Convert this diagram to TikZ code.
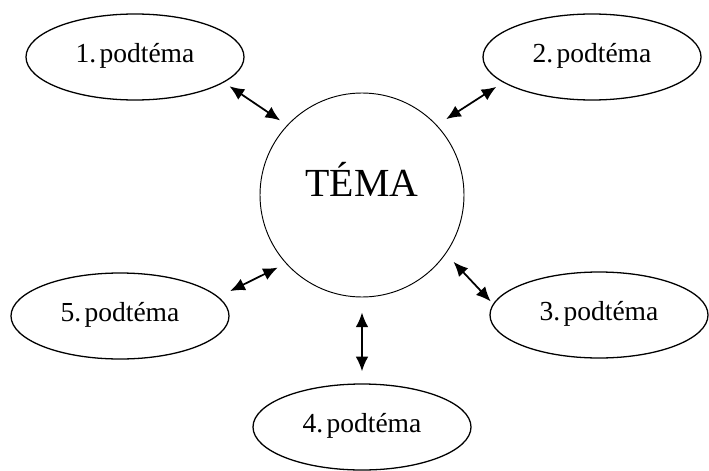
\documentclass[tikz,border=0pt]{standalone}
\usepackage{fontspec}
\setmainfont{Liberation Serif}
\usetikzlibrary{shapes.geometric, arrows.meta}

\begin{document}
\begin{tikzpicture}[
    x=0.3mm, y=-0.3mm,
    sub/.style={ellipse, draw, line width=1.1pt, minimum width=6.54cm, minimum height=2.58cm, inner sep=0pt, font=\fontsize{23.5}{28}\selectfont, text height=16pt, text depth=7pt},
    theme/.style={circle, draw, line width=0.8pt, minimum size=6.12cm, inner sep=0pt, font=\fontsize{34}{40}\selectfont, text height=27pt, text depth=24pt},
    link/.style={{Latex[length=4.4mm,width=3.8mm]}-{Latex[length=4.4mm,width=3.8mm]}, line width=1.5pt}
]
\useasboundingbox (0,0) rectangle (709,470);
\node[theme] (tema) at (362,195) {TÉMA};
\node[sub] (sub1) at (135,57) {1.\hspace{0.12em}podtéma};
\node[sub] (sub2) at (592,57) {2.\hspace{0.12em}podtéma};
\node[sub] (sub3) at (599,315) {3.\hspace{0.12em}podtéma};
\node[sub] (sub4) at (362,427) {4.\hspace{0.12em}podtéma};
\node[sub] (sub5) at (120,316) {5.\hspace{0.12em}podtéma};

\draw[link, shorten <=2mm, shorten >=2.5mm] (sub1.-16) -- (tema.137);
\draw[link, shorten <=2.4mm, shorten >=3.3mm] (sub2.196) -- (tema.43);
\draw[link, shorten <=3.3mm, shorten >=1mm] (tema.-35) -- (sub3.174);
\draw[link, shorten <=4.5mm, shorten >=3.6mm] (tema.south) -- (sub4.north);
\draw[link, shorten <=3.9mm, shorten >=2.7mm] (sub5.11) -- (tema.222);
\end{tikzpicture}
\end{document}
